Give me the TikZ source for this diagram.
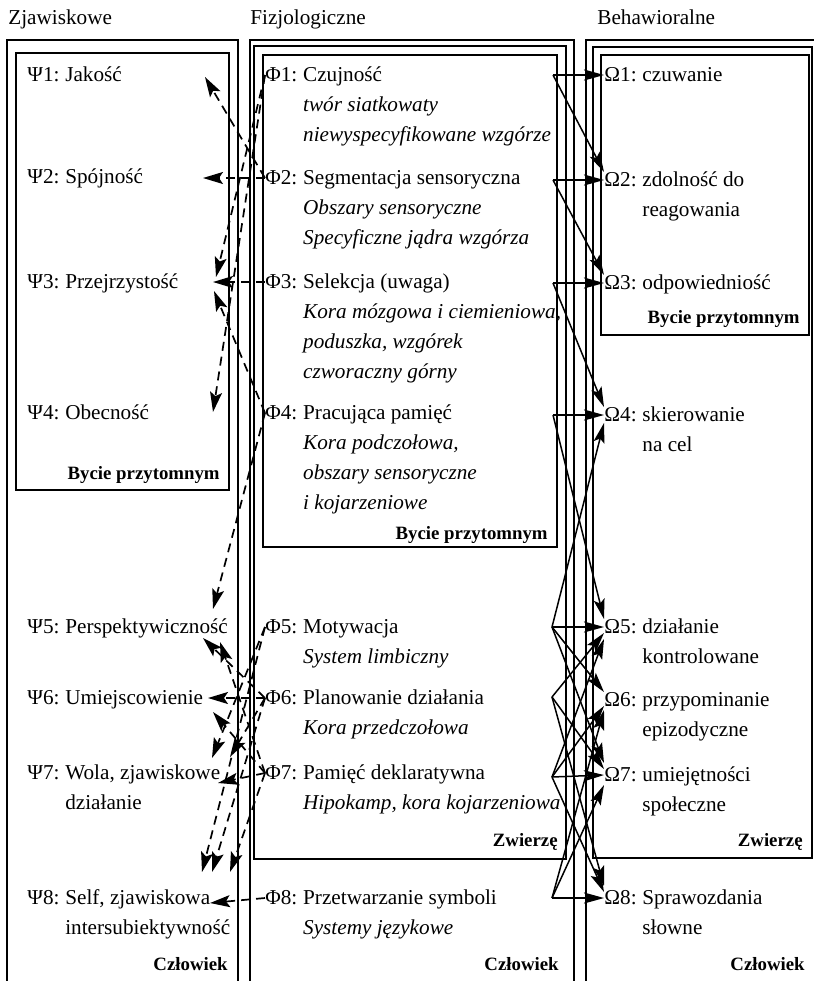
\documentclass[tikz,border=0pt]{standalone}
\usepackage{fontspec}
\setmainfont{Liberation Serif}
\usetikzlibrary{arrows.meta,positioning}

\newcommand{\lines}[1]{\begin{tabular}[t]{@{}l@{}}#1\end{tabular}}

\tikzset{
  frame/.style={line width=1pt},
  head/.style={anchor=west, inner sep=0pt},
  txt/.style={anchor=base west, inner sep=0pt},
  tag/.style={anchor=base east, inner sep=0pt, font=\fontsize{9.4}{12}\selectfont\bfseries},
  title/.style={anchor=base west, inner sep=0pt},
  psy/.style={line width=0.85pt, dash pattern=on 4.5pt off 3pt,
              -{Stealth[length=10pt,width=6pt,inset=2pt]}},
  act/.style={line width=0.75pt, -{Stealth[length=10pt,width=5.5pt,inset=2pt]}},
}

\begin{document}
\begin{tikzpicture}[x=0.5pt, y=-0.5pt, font=\fontsize{10.6}{15}\selectfont]
  \useasboundingbox (0,0) rectangle (814,981);

  \node[title] (zjaw) at (8,24) {Zjawiskowe};
  \node[title] (fizj) at (250,24) {Fizjologiczne};
  \node[title] (behw) at (597,24) {Behawioralne};

  % ramki
  \draw[frame] (7,981) |- (238,40) -- (238,981);
  \draw[frame] (16,53) rectangle (229,490);
  \draw[frame] (250,981) |- (574,40) -- (574,981);
  \draw[frame] (254,46) rectangle (566,859);
  \draw[frame] (263,55) rectangle (557,547);
  \draw[frame] (586,981) |- (814,40);
  \draw[frame] (593,47) rectangle (812,858);
  \draw[frame] (601,55) rectangle (809,335);

  \node[tag] at (220,479) {Bycie przytomnym};
  \node[tag] at (228,970) {Człowiek};
  \node[tag] at (548,539) {Bycie przytomnym};
  \node[tag] at (558,846) {Zwierzę};
  \node[tag] at (559,970) {Człowiek};
  \node[tag] at (800,323) {Bycie przytomnym};
  \node[tag] at (803,846) {Zwierzę};
  \node[tag] at (805,970) {Człowiek};

  % Psi
  \node[head] (psi1) at (27,75) {Ψ1:};
  \node[txt] (psi1t) at ([xshift=0.25em]psi1.base east) {Jakość};
  \node[head] (psi2) at (27,177) {Ψ2:};
  \node[txt] (psi2t) at ([xshift=0.25em]psi2.base east) {Spójność};
  \node[head] (psi3) at (27,282) {Ψ3:};
  \node[txt] (psi3t) at ([xshift=0.25em]psi3.base east) {Przejrzystość};
  \node[head] (psi4) at (27,413) {Ψ4:};
  \node[txt] (psi4t) at ([xshift=0.25em]psi4.base east) {Obecność};
  \node[head] (psi5) at (27,627) {Ψ5:};
  \node[txt] (psi5t) at ([xshift=0.25em]psi5.base east) {Perspektywiczność};
  \node[head] (psi6) at (27,698) {Ψ6:};
  \node[txt] (psi6t) at ([xshift=0.25em]psi6.base east) {Umiejscowienie};
  \node[head] (psi7) at (27,773) {Ψ7:};
  \node[txt] (psi7t) at ([xshift=0.25em]psi7.base east) {\lines{Wola, zjawiskowe\\działanie}};
  \node[head] (psi8) at (27,898) {Ψ8:};
  \node[txt] (psi8t) at ([xshift=0.25em]psi8.base east) {\lines{Self, zjawiskowa\\intersubiektywność}};

  % Phi
  \node[head] (phi1) at (265,75) {Φ1:};
  \node[txt] (phi1t) at ([xshift=0.25em]phi1.base east) {\lines{Czujność\\\textit{twór siatkowaty}\\\textit{niewyspecyfikowane wzgórze}}};
  \node[head] (phi2) at (265,178) {Φ2:};
  \node[txt] (phi2t) at ([xshift=0.25em]phi2.base east) {\lines{Segmentacja sensoryczna\\\textit{Obszary sensoryczne}\\\textit{Specyficzne jądra wzgórza}}};
  \node[head] (phi3) at (265,282) {Φ3:};
  \node[txt] (phi3t) at ([xshift=0.25em]phi3.base east) {\lines{Selekcja (uwaga)\\\textit{Kora mózgowa i ciemieniowa,}\\\textit{poduszka, wzgórek}\\\textit{czworaczny górny}}};
  \node[head] (phi4) at (265,413) {Φ4:};
  \node[txt] (phi4t) at ([xshift=0.25em]phi4.base east) {\lines{Pracująca pamięć\\\textit{Kora podczołowa,}\\\textit{obszary sensoryczne}\\\textit{i kojarzeniowe}}};
  \node[head] (phi5) at (265,627) {Φ5:};
  \node[txt] (phi5t) at ([xshift=0.25em]phi5.base east) {\lines{Motywacja\\\textit{System limbiczny}}};
  \node[head] (phi6) at (265,698) {Φ6:};
  \node[txt] (phi6t) at ([xshift=0.25em]phi6.base east) {\lines{Planowanie działania\\\textit{Kora przedczołowa}}};
  \node[head] (phi7) at (265,773) {Φ7:};
  \node[txt] (phi7t) at ([xshift=0.25em]phi7.base east) {\lines{Pamięć deklaratywna\\\textit{Hipokamp, kora kojarzeniowa}}};
  \node[head] (phi8) at (265,898) {Φ8:};
  \node[txt] (phi8t) at ([xshift=0.25em]phi8.base east) {\lines{Przetwarzanie symboli\\\textit{Systemy językowe}}};

  % Omega
  \node[head] (om1) at (604,75) {Ω1:};
  \node[txt] (om1t) at ([xshift=0.25em]om1.base east) {czuwanie};
  \node[head] (om2) at (604,180) {Ω2:};
  \node[txt] (om2t) at ([xshift=0.25em]om2.base east) {\lines{zdolność do\\reagowania}};
  \node[head] (om3) at (604,283) {Ω3:};
  \node[txt] (om3t) at ([xshift=0.25em]om3.base east) {odpowiedniość};
  \node[head] (om4) at (604,415) {Ω4:};
  \node[txt] (om4t) at ([xshift=0.25em]om4.base east) {\lines{skierowanie\\na cel}};
  \node[head] (om5) at (604,627) {Ω5:};
  \node[txt] (om5t) at ([xshift=0.25em]om5.base east) {\lines{działanie\\kontrolowane}};
  \node[head] (om6) at (604,700) {Ω6:};
  \node[txt] (om6t) at ([xshift=0.25em]om6.base east) {\lines{przypominanie\\epizodyczne}};
  \node[head] (om7) at (604,775) {Ω7:};
  \node[txt] (om7t) at ([xshift=0.25em]om7.base east) {\lines{umiejętności\\społeczne}};
  \node[head] (om8) at (604,898) {Ω8:};
  \node[txt] (om8t) at ([xshift=0.25em]om8.base east) {\lines{Sprawozdania\\słowne}};

  % Phi -> Psi
  \coordinate (p1) at (205,77);
  \coordinate (p2) at (203,178);
  \coordinate (p3a) at (216,277);
  \coordinate (p3b) at (213,282);
  \coordinate (p3c) at (214,291);
  \coordinate (p4) at (213,412);
  \coordinate (p5a) at (213,609);
  \coordinate (p5b) at (203,638);
  \coordinate (p5c) at (220,642);
  \coordinate (p6a) at (208,698);
  \coordinate (p6b) at (213,712);
  \coordinate (p7a) at (212,758);
  \coordinate (p7b) at (230,757);
  \coordinate (p7c) at (218,783);
  \coordinate (p8a) at (202,872);
  \coordinate (p8b) at (212,872);
  \coordinate (p8c) at (230,872);
  \coordinate (p8d) at (210,903);

  \draw[psy] (phi1.west) -- (p3a);
  \draw[psy] (phi1.west) -- (p4);
  \draw[psy] (phi2.west) -- (p1);
  \draw[psy] (phi2.west) -- (p2);
  \draw[psy] (phi3.west) -- (p3b);
  \draw[psy] (phi4.west) -- (p3c);
  \draw[psy] (phi4.west) -- (p5a);
  \draw[psy] (phi5.west) -- (p7a);
  \draw[psy] (phi5.west) -- (p8a);
  \draw[psy] (phi6.west) -- (p5b);
  \draw[psy] (phi6.west) -- (p6a);
  \draw[psy] (phi6.west) -- (p7b);
  \draw[psy] (phi6.west) -- (p8b);
  \draw[psy] (phi7.west) -- (p5c);
  \draw[psy] (phi7.west) -- (p6b);
  \draw[psy] (phi7.west) -- (p7c);
  \draw[psy] (phi7.west) -- (p8c);
  \draw[psy] (phi8.west) -- (p8d);

  % Phi -> Omega
  \coordinate (r1) at (553,75);
  \coordinate (r2) at (553,180);
  \coordinate (r3) at (553,283);
  \coordinate (r4) at (553,415);
  \coordinate (r5) at (552,627);
  \coordinate (r6) at (552,697);
  \coordinate (r7) at (552,777);
  \coordinate (r8) at (552,898);

  \draw[act] (r1) -- (om1.west);
  \draw[act] (r1) -- ([yshift=4pt]om2.west);
  \draw[act] (r2) -- (om2.west);
  \draw[act] (r2) -- ([yshift=4pt]om3.west);
  \draw[act] (r3) -- (om3.west);
  \draw[act] (r3) -- ([yshift=4pt]om4.west);
  \draw[act] (r4) -- (om4.west);
  \draw[act] (r4) -- ([yshift=4pt]om5.west);
  \draw[act] (r5) -- ([yshift=-4pt]om4.west);
  \draw[act] (r5) -- (om5.west);
  \draw[act] (r5) -- ([yshift=4pt]om6.west);
  \draw[act] (r5) -- ([yshift=6pt]om7.west);
  \draw[act] (r6) -- ([yshift=-3pt]om5.west);
  \draw[act] (r6) -- ([yshift=3pt]om7.west);
  \draw[act] (r6) -- ([yshift=6pt]om8.west);
  \draw[act] (r7) -- ([yshift=-6pt]om5.west);
  \draw[act] (r7) -- ([yshift=-3pt]om6.west);
  \draw[act] (r7) -- (om7.west);
  \draw[act] (r7) -- ([yshift=3pt]om8.west);
  \draw[act] (r8) -- ([yshift=-5pt]om6.west);
  \draw[act] (r8) -- ([yshift=-5pt]om7.west);
  \draw[act] (r8) -- (om8.west);
\end{tikzpicture}
\end{document}
